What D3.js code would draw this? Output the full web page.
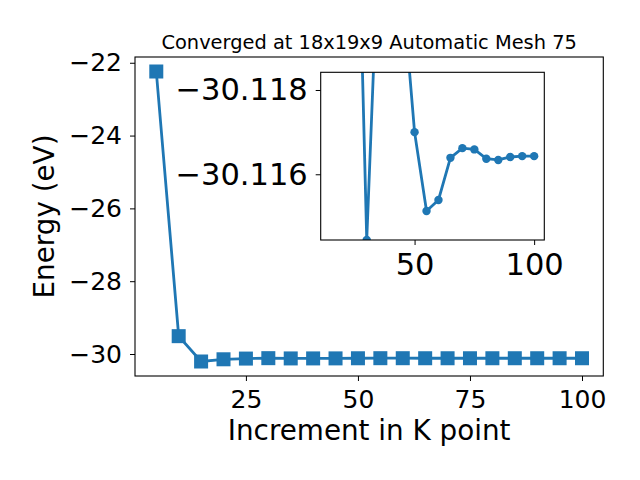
<!DOCTYPE html>
<html><head><meta charset="utf-8">
<script src="https://cdn.jsdelivr.net/npm/d3@7"></script>
<style>
body{margin:0;background:#fff;}
svg{font-family:"DejaVu Sans",sans-serif;display:block;}
</style></head>
<body>
<svg id="c" width="640" height="480"></svg>
<script>
// Data
const kpoints = [5,10,15,20,25,30,35,40,45,50,55,60,65,70,75,80,85,90,95,100];
const energies = [-22.24,-29.51,-30.206,-30.145,-30.1256,-30.11444,-30.1216,-30.121,-30.1204,-30.11700,-30.11513,-30.11539,-30.11639,-30.11662,-30.11659,-30.11637,-30.11634,-30.11641,-30.11643,-30.11643];
const insetStart = 15;               // inset shows points from this K on
const insetYLim = [-30.11444, -30.11842]; // [bottom, top] (inverted axis)
const mainXTicks = [25,50,75,100];
const mainYTicks = [-30,-28,-26,-24,-22];
const insetXTicks = [50,100];
const insetYTicks = [-30.118,-30.116];
const titleText = "Converged at 18x19x9 Automatic Mesh 75";
const xLabel = "Increment in K point";
const yLabel = "Energy (eV)";

const color = "#1f77b4";
const svg = d3.select("#c");
const data = kpoints.map((k,i)=>({k, e: energies[i]}));

function padExtent(ext){ const d=(ext[1]-ext[0])*0.05; return [ext[0]-d, ext[1]+d]; }

// Main axes
const M = {l:135, r:603.3, t:57, b:376};
const x = d3.scaleLinear().domain(padExtent(d3.extent(kpoints))).range([M.l, M.r]);
const y = d3.scaleLinear().domain(padExtent(d3.extent(energies))).range([M.b, M.t]);

const fs = 25, fsLab = 27.8, fsIn = 30.5;
const gx = svg.append("g").attr("transform",`translate(0,${M.b})`)
  .call(d3.axisBottom(x).tickValues(mainXTicks).tickSize(5).tickPadding(9).tickFormat(d3.format("d")));
const gy = svg.append("g").attr("transform",`translate(${M.l},0)`)
  .call(d3.axisLeft(y).tickValues(mainYTicks).tickSize(5).tickPadding(8).tickFormat(d3.format("d")));
[gx,gy].forEach(g=>{
  g.select(".domain").remove();
  g.selectAll("text").attr("font-size",fs).attr("font-family","DejaVu Sans").attr("fill","#000");
  g.selectAll("line").attr("stroke","#000").attr("stroke-width",1);
});
svg.append("rect").attr("x",M.l).attr("y",M.t).attr("width",M.r-M.l).attr("height",M.b-M.t)
  .attr("fill","none").attr("stroke","#000").attr("stroke-width",1.1);

const line = d3.line().x(d=>x(d.k)).y(d=>y(d.e));
svg.append("path").datum(data).attr("d",line).attr("fill","none").attr("stroke",color).attr("stroke-width",2.8);
const ms = 14;
svg.append("g").selectAll("rect").data(data).join("rect")
  .attr("x",d=>x(d.k)-ms/2).attr("y",d=>y(d.e)-ms/2).attr("width",ms).attr("height",ms).attr("fill",color);

svg.append("text").attr("x",(M.l+M.r)/2).attr("y",49).attr("text-anchor","middle")
  .attr("font-size",19.4).text(titleText);
svg.append("text").attr("x",(M.l+M.r)/2).attr("y",440).attr("text-anchor","middle")
  .attr("font-size",fsLab).text(xLabel);
svg.append("text").attr("transform",`translate(54,${(M.t+M.b)/2}) rotate(-90)`).attr("text-anchor","middle")
  .attr("font-size",fsLab).text(yLabel);

// Inset
const I = {l:320.7, r:544.3, t:72.3, b:240};
const idata = data.filter(d=>d.k>=insetStart);
const xi = d3.scaleLinear().domain(padExtent(d3.extent(idata,d=>d.k))).range([I.l, I.r]);
const yi = d3.scaleLinear().domain(insetYLim).range([I.b, I.t]);
svg.append("rect").attr("x",I.l).attr("y",I.t).attr("width",I.r-I.l).attr("height",I.b-I.t).attr("fill","#fff");
svg.append("clipPath").attr("id","ic").append("rect").attr("x",I.l).attr("y",I.t).attr("width",I.r-I.l).attr("height",I.b-I.t);
const gi = svg.append("g").attr("clip-path","url(#ic)");
gi.append("path").datum(idata).attr("d",d3.line().x(d=>xi(d.k)).y(d=>yi(d.e)))
  .attr("fill","none").attr("stroke",color).attr("stroke-width",2.8);
gi.selectAll("circle").data(idata).join("circle").attr("cx",d=>xi(d.k)).attr("cy",d=>yi(d.e)).attr("r",4.2).attr("fill",color);

const gxi = svg.append("g").attr("transform",`translate(0,${I.b})`)
  .call(d3.axisBottom(xi).tickValues(insetXTicks).tickSize(5).tickPadding(8).tickFormat(d3.format("d")));
const gyi = svg.append("g").attr("transform",`translate(${I.l},0)`)
  .call(d3.axisLeft(yi).tickValues(insetYTicks).tickSize(5).tickPadding(8).tickFormat(d3.format(".3f")));
[gxi,gyi].forEach(g=>{
  g.select(".domain").remove();
  g.selectAll("text").attr("font-size",fsIn).attr("font-family","DejaVu Sans").attr("fill","#000");
  g.selectAll("line").attr("stroke","#000").attr("stroke-width",1);
});
svg.append("rect").attr("x",I.l).attr("y",I.t).attr("width",I.r-I.l).attr("height",I.b-I.t)
  .attr("fill","none").attr("stroke","#000").attr("stroke-width",1.1);
</script>
</body></html>
